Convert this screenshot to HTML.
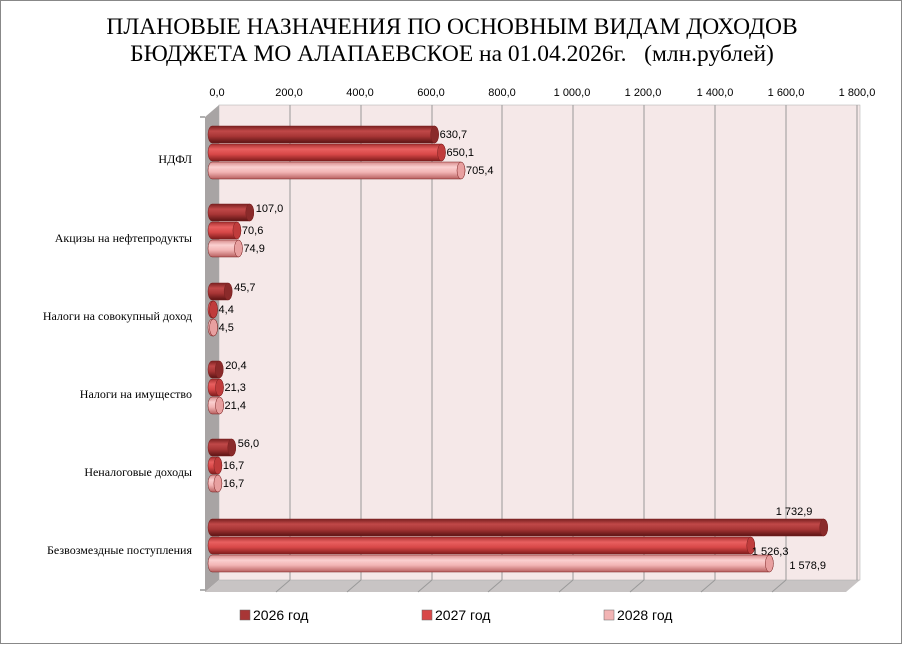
<!DOCTYPE html>
<html><head><meta charset="utf-8"><style>
body{margin:0;background:#fff;}
</style></head><body>
<svg width="902" height="644" viewBox="0 0 902 644" xmlns="http://www.w3.org/2000/svg" font-family="Liberation Sans, sans-serif">
<defs>
<linearGradient id="g1" x1="0" y1="0" x2="0" y2="1"><stop offset="0" stop-color="#7a2020"/><stop offset="0.3" stop-color="#c04848"/><stop offset="0.6" stop-color="#a83636"/><stop offset="1" stop-color="#5a1414"/></linearGradient>
<linearGradient id="g2" x1="0" y1="0" x2="0" y2="1"><stop offset="0" stop-color="#a83030"/><stop offset="0.3" stop-color="#e86060"/><stop offset="0.6" stop-color="#d84848"/><stop offset="1" stop-color="#801c1c"/></linearGradient>
<linearGradient id="g3" x1="0" y1="0" x2="0" y2="1"><stop offset="0" stop-color="#d88c8c"/><stop offset="0.3" stop-color="#fbd0d0"/><stop offset="0.6" stop-color="#f2b4b4"/><stop offset="1" stop-color="#b86060"/></linearGradient>
</defs>
<rect x="0.5" y="0.5" width="901" height="643" fill="#fff" stroke="#888"/>
<text x="452" y="34" text-anchor="middle" font-family="Liberation Serif, serif" font-size="23.5">ПЛАНОВЫЕ НАЗНАЧЕНИЯ ПО ОСНОВНЫМ ВИДАМ ДОХОДОВ</text>
<text x="452" y="61" text-anchor="middle" font-family="Liberation Serif, serif" font-size="23.5" xml:space="preserve" style="white-space:pre">БЮДЖЕТА МО АЛАПАЕВСКОЕ на 01.04.2026г.   (млн.рублей)</text>
<polygon points="205,117 219,105 219,580 205,592" fill="#a8a4a4"/>
<polygon points="205,592 219,580 860,580 846,592" fill="#c8c4c4"/>
<rect x="219" y="105" width="641" height="475" fill="#f5e8e8" stroke="#aaa" stroke-width="0.5"/>
<g stroke="#999" stroke-width="1">
<line x1="290" y1="105" x2="290" y2="580"/><line x1="361" y1="105" x2="361" y2="580"/><line x1="432" y1="105" x2="432" y2="580"/><line x1="502" y1="105" x2="502" y2="580"/><line x1="573" y1="105" x2="573" y2="580"/><line x1="644" y1="105" x2="644" y2="580"/><line x1="715" y1="105" x2="715" y2="580"/><line x1="786" y1="105" x2="786" y2="580"/><line x1="857" y1="105" x2="857" y2="580"/>
<line x1="290" y1="580" x2="276" y2="592"/><line x1="361" y1="580" x2="347" y2="592"/><line x1="432" y1="580" x2="418" y2="592"/><line x1="502" y1="580" x2="488" y2="592"/><line x1="573" y1="580" x2="559" y2="592"/><line x1="644" y1="580" x2="630" y2="592"/><line x1="715" y1="580" x2="701" y2="592"/><line x1="786" y1="580" x2="772" y2="592"/>
</g>
<g font-size="11" text-anchor="middle" fill="#000">
<text x="217" y="96">0,0</text><text x="289" y="96">200,0</text><text x="360" y="96">400,0</text><text x="431" y="96">600,0</text><text x="502" y="96">800,0</text><text x="572" y="96">1 000,0</text><text x="643" y="96">1 200,0</text><text x="715" y="96">1 400,0</text><text x="786" y="96">1 600,0</text><text x="857" y="96">1 800,0</text>
</g>
<g stroke="#666"><line x1="200" y1="117" x2="205" y2="117"/><line x1="200" y1="590" x2="205" y2="590"/></g>
<g font-family="Liberation Serif, serif" font-size="12" text-anchor="end">
<text x="192" y="163">НДФЛ</text>
<text x="192" y="242">Акцизы на нефтепродукты</text>
<text x="192" y="320">Налоги на совокупный доход</text>
<text x="192" y="398">Налоги на имущество</text>
<text x="192" y="476">Неналоговые доходы</text>
<text x="192" y="554">Безвозмездные поступления</text>
</g>
<g id="bars" font-size="11"></g>
<g font-size="14">
<rect x="240" y="610" width="10" height="10" fill="#a83636" stroke="#666" stroke-width="0.5"/><text x="253" y="620">2026 год</text>
<rect x="422" y="610" width="10" height="10" fill="#d84848" stroke="#666" stroke-width="0.5"/><text x="435" y="620">2027 год</text>
<rect x="604" y="610" width="10" height="10" fill="#f2b4b4" stroke="#666" stroke-width="0.5"/><text x="617" y="620">2028 год</text>
</g>
</svg>
<script>
var data=[[630.7,650.1,705.4],[107.0,70.6,74.9],[45.7,4.4,4.5],[20.4,21.3,21.4],[56.0,16.7,16.7],[1732.9,1526.3,1578.9]];
var tops=[126,204,283,361,439,519];
var fills=["url(#g1)","url(#g2)","url(#g3)"],caps=["#8a2a2a","#c03c3c","#e8a0a0"];
var s="",k=0.353,h=17;
function f(v){var p=v.toFixed(1).split('.');var i=p[0];if(i.length>3)i=i.slice(0,i.length-3)+' '+i.slice(-3);return i+','+p[1];}
data.forEach(function(g,gi){g.forEach(function(v,j){
var y=tops[gi]+j*18,x0=212,x1=x0+v*k;
s+='<path d="M'+x0+','+y+' L'+x1+','+y+' A4,'+(h/2)+' 0 0 1 '+x1+','+(y+h)+' L'+x0+','+(y+h)+' A4,'+(h/2)+' 0 0 1 '+x0+','+y+'Z" fill="'+fills[j]+'" stroke="#7a2020" stroke-width="0.5"/>';
s+='<ellipse cx="'+x1+'" cy="'+(y+h/2)+'" rx="4" ry="'+(h/2)+'" fill="'+caps[j]+'" stroke="#7a2020" stroke-width="0.5"/>';
var lx=x1+5,ly=y+12;
if(gi==5){ if(j==0){lx=x1-48;ly=y-4;} else if(j==1){lx=x1+1;ly=y+18;} else {lx=x1+20;ly=y+14;} }
else if(gi>=1&&j==0){lx=x1+6;ly=y+8;}
s+='<text x="'+lx+'" y="'+ly+'">'+f(v)+'</text>';
});});
document.getElementById('bars').innerHTML=s;
</script>
</body></html>
